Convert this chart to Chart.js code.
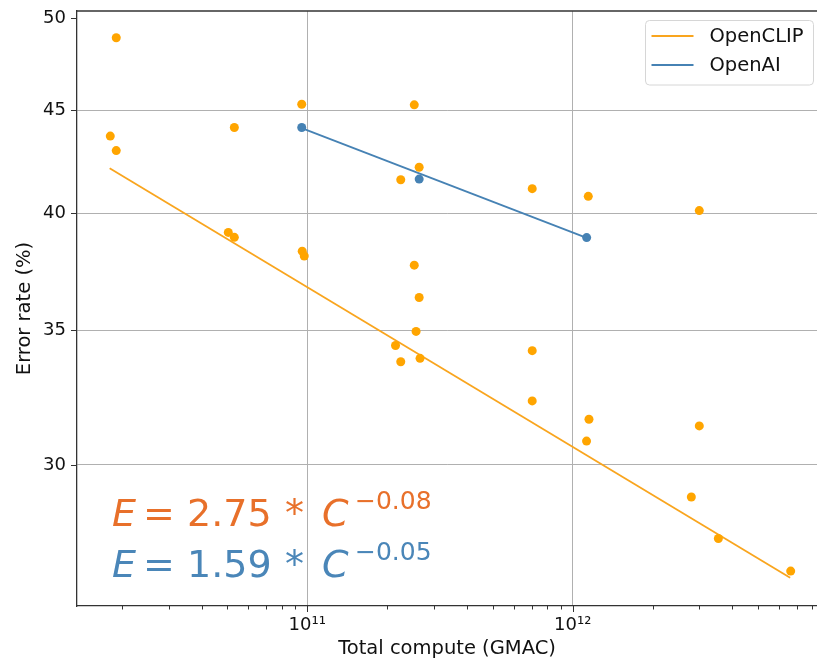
<!DOCTYPE html>
<html><head><meta charset="utf-8">
<script src="https://cdn.jsdelivr.net/npm/chart.js@4.4.1/dist/chart.umd.min.js"></script>
<style>html,body{margin:0;padding:0;background:#fff;overflow:hidden}</style>
</head><body>
<canvas id="c" width="817" height="664"></canvas>
<script>
// ---- data ----
const openclipCompute = [1.906e10, 1.81e10, 1.906e10, 5.31e10, 5.04e10, 5.31e10, 9.53e10, 9.57e10, 9.74e10,
  2.25e11, 2.53e11, 2.64e11, 2.53e11, 2.64e11, 2.57e11, 2.15e11, 2.25e11, 2.66e11,
  7.04e11, 7.04e11, 7.04e11, 1.145e12, 1.152e12, 1.128e12, 3.0e12, 3.0e12, 2.80e12, 3.54e12, 6.63e12];
const openclipError = [48.9, 43.7, 42.98, 44.13, 39.14, 38.92, 45.32, 38.31, 38.1,
  41.57, 45.29, 42.17, 37.7, 36.33, 34.95, 34.39, 33.76, 33.89,
  41.15, 34.19, 32.28, 40.79, 31.61, 30.83, 40.13, 31.37, 28.92, 27.58, 26.57];
const openaiCompute = [9.53e10, 2.64e11, 1.129e12];
const openaiError = [44.13, 41.6, 38.91];
const openclipFitCompute = [1.8e10, 6.6e12];
const openclipFitError = [42.12, 26.37];
const openaiFitCompute = [9.53e10, 1.129e12];
const openaiFitError = [44.1, 38.9];
const seriesNames = ['OpenCLIP', 'OpenAI'];
const xTickValues = [1e11, 1e12];
const xTickLabels = ['10¹¹', '10¹²'];
const xMinorTicks = [2e10,3e10,4e10,5e10,6e10,7e10,8e10,9e10,2e11,3e11,4e11,5e11,6e11,7e11,8e11,9e11,2e12,3e12,4e12,5e12,6e12,7e12,8e12];
const yTickValues = [30, 35, 40, 45, 50];
const yGridValues = [30, 35, 40, 45];
const equationCoefs = ['2.75', '1.59'];
const equationExps = ['\u22120.08', '\u22120.05'];

const ORANGE = '#ffa500', LINE_ORANGE = '#f9a51e', BLUE = '#4682b4';
const EQ_COLORS = ['#e8702a', '#4a86b8'];
const FONT = '"DejaVu Sans", sans-serif';

const pts = (xs, ys) => xs.map((x, i) => ({x, y: ys[i]}));

const decor = {
  id: 'decor',
  afterDraw(chart) {
    const ctx = chart.ctx, a = chart.chartArea;
    const xs = chart.scales.x, ys = chart.scales.y;
    ctx.save();
    // top spine
    ctx.strokeStyle = '#333'; ctx.lineWidth = 1.3;
    ctx.beginPath(); ctx.moveTo(a.left, a.top); ctx.lineTo(a.right, a.top); ctx.stroke();
    // tick marks
    ctx.lineWidth = 1;
    ctx.beginPath();
    xTickValues.forEach(v => { const p = Math.round(xs.getPixelForValue(v)) + 0.5; ctx.moveTo(p, a.bottom); ctx.lineTo(p, a.bottom + 6); });
    xMinorTicks.forEach(v => { const p = Math.round(xs.getPixelForValue(v)) + 0.5; if (p > a.left && p < a.right) { ctx.moveTo(p, a.bottom); ctx.lineTo(p, a.bottom + 3.5); } });
    yTickValues.forEach(v => { const p = Math.round(ys.getPixelForValue(v)) + 0.5; ctx.moveTo(a.left, p); ctx.lineTo(a.left - 6, p); });
    ctx.stroke();
    // legend
    const lx = a.right - 171.5, ly = a.top + 9.5, lw = 168, lh = 64.5;
    ctx.beginPath(); ctx.roundRect(lx, ly, lw, lh, 4);
    ctx.fillStyle = 'rgba(255,255,255,0.85)'; ctx.fill();
    ctx.strokeStyle = '#d6d6d6'; ctx.lineWidth = 1; ctx.stroke();
    [LINE_ORANGE, BLUE].forEach((c, i) => {
      const yy = ly + 15.5 + i * 29;
      ctx.strokeStyle = c; ctx.lineWidth = 2;
      ctx.beginPath(); ctx.moveTo(lx + 6, yy); ctx.lineTo(lx + 48, yy); ctx.stroke();
      ctx.fillStyle = '#111'; ctx.font = '19.5px ' + FONT; ctx.textBaseline = 'middle'; ctx.textAlign = 'left';
      ctx.fillText(seriesNames[i], lx + 64, yy + 1);
    });
    // equations
    ctx.textBaseline = 'alphabetic'; ctx.textAlign = 'left';
    const ex = a.left + 35;
    [a.bottom - 80, a.bottom - 29].forEach((by, i) => {
      ctx.fillStyle = EQ_COLORS[i];
      ctx.font = 'italic 38px ' + FONT; ctx.fillText('E', ex, by);
      ctx.font = '38px ' + FONT; ctx.fillText('=', ex + 31, by);
      ctx.fillText(equationCoefs[i], ex + 75, by);
      ctx.fillText('*', ex + 173, by);
      ctx.font = 'italic 38px ' + FONT; ctx.fillText('C', ex + 210, by);
      ctx.font = '25px ' + FONT; ctx.fillText(equationExps[i], ex + 243, by - 17);
    });
    ctx.restore();
  }
};

new Chart(document.getElementById('c'), {
  type: 'scatter',
  data: {
    datasets: [
      {label: 'OpenCLIP points', data: pts(openclipCompute, openclipError), backgroundColor: ORANGE, borderWidth: 0, pointRadius: 4.5, order: 0},
      {label: 'OpenAI points', data: pts(openaiCompute, openaiError), backgroundColor: BLUE, borderWidth: 0, pointRadius: 4.5, order: 0},
      {label: seriesNames[0], type: 'line', data: pts(openclipFitCompute, openclipFitError), borderColor: LINE_ORANGE, borderWidth: 1.8, pointRadius: 0, fill: false, order: 1},
      {label: seriesNames[1], type: 'line', data: pts(openaiFitCompute, openaiFitError), borderColor: BLUE, borderWidth: 1.8, pointRadius: 0, fill: false, order: 1}
    ]
  },
  options: {
    responsive: false, animation: false,
    layout: {autoPadding: false, padding: {left: 0, top: 11, right: 0, bottom: 0}},
    plugins: {legend: {display: false}, tooltip: {enabled: false}},
    events: [],
    scales: {
      x: {
        type: 'logarithmic', min: 1.356e10, max: 8.33e12,
        afterBuildTicks: s => { s.ticks = xTickValues.map(v => ({value: v})); },
        afterFit: s => { s.height = 58; s.paddingLeft = 0; s.paddingRight = 0; },
        ticks: {autoSkip: false, maxRotation: 0, padding: 9, color: '#111', font: {family: FONT, size: 18},
          callback: v => { const i = xTickValues.indexOf(v); return i >= 0 ? xTickLabels[i] : ''; }},
        grid: {color: '#b0b0b0', lineWidth: 1, drawTicks: false},
        border: {display: true, color: '#333', width: 1.3},
        title: {display: true, text: 'Total compute (GMAC)', color: '#111', font: {family: FONT, size: 19.5}, padding: {top: 0, bottom: 3}}
      },
      y: {
        type: 'logarithmic', min: 25.53, max: 50.42,
        afterBuildTicks: s => { s.ticks = yTickValues.map(v => ({value: v})); },
        afterFit: s => { s.width = 77; s.paddingTop = 0; s.paddingBottom = 0; },
        ticks: {autoSkip: false, padding: 11, color: '#111', font: {family: FONT, size: 18},
          callback: v => String(v)},
        grid: {color: c => (c.tick && yGridValues.includes(c.tick.value)) ? '#b0b0b0' : 'rgba(0,0,0,0)', lineWidth: 1, drawTicks: false},
        border: {display: true, color: '#333', width: 1.3},
        title: {display: true, text: 'Error rate (%)', color: '#111', font: {family: FONT, size: 19.5}, padding: {top: 13, bottom: 0}}
      }
    }
  },
  plugins: [decor]
});
</script>
</body></html>
